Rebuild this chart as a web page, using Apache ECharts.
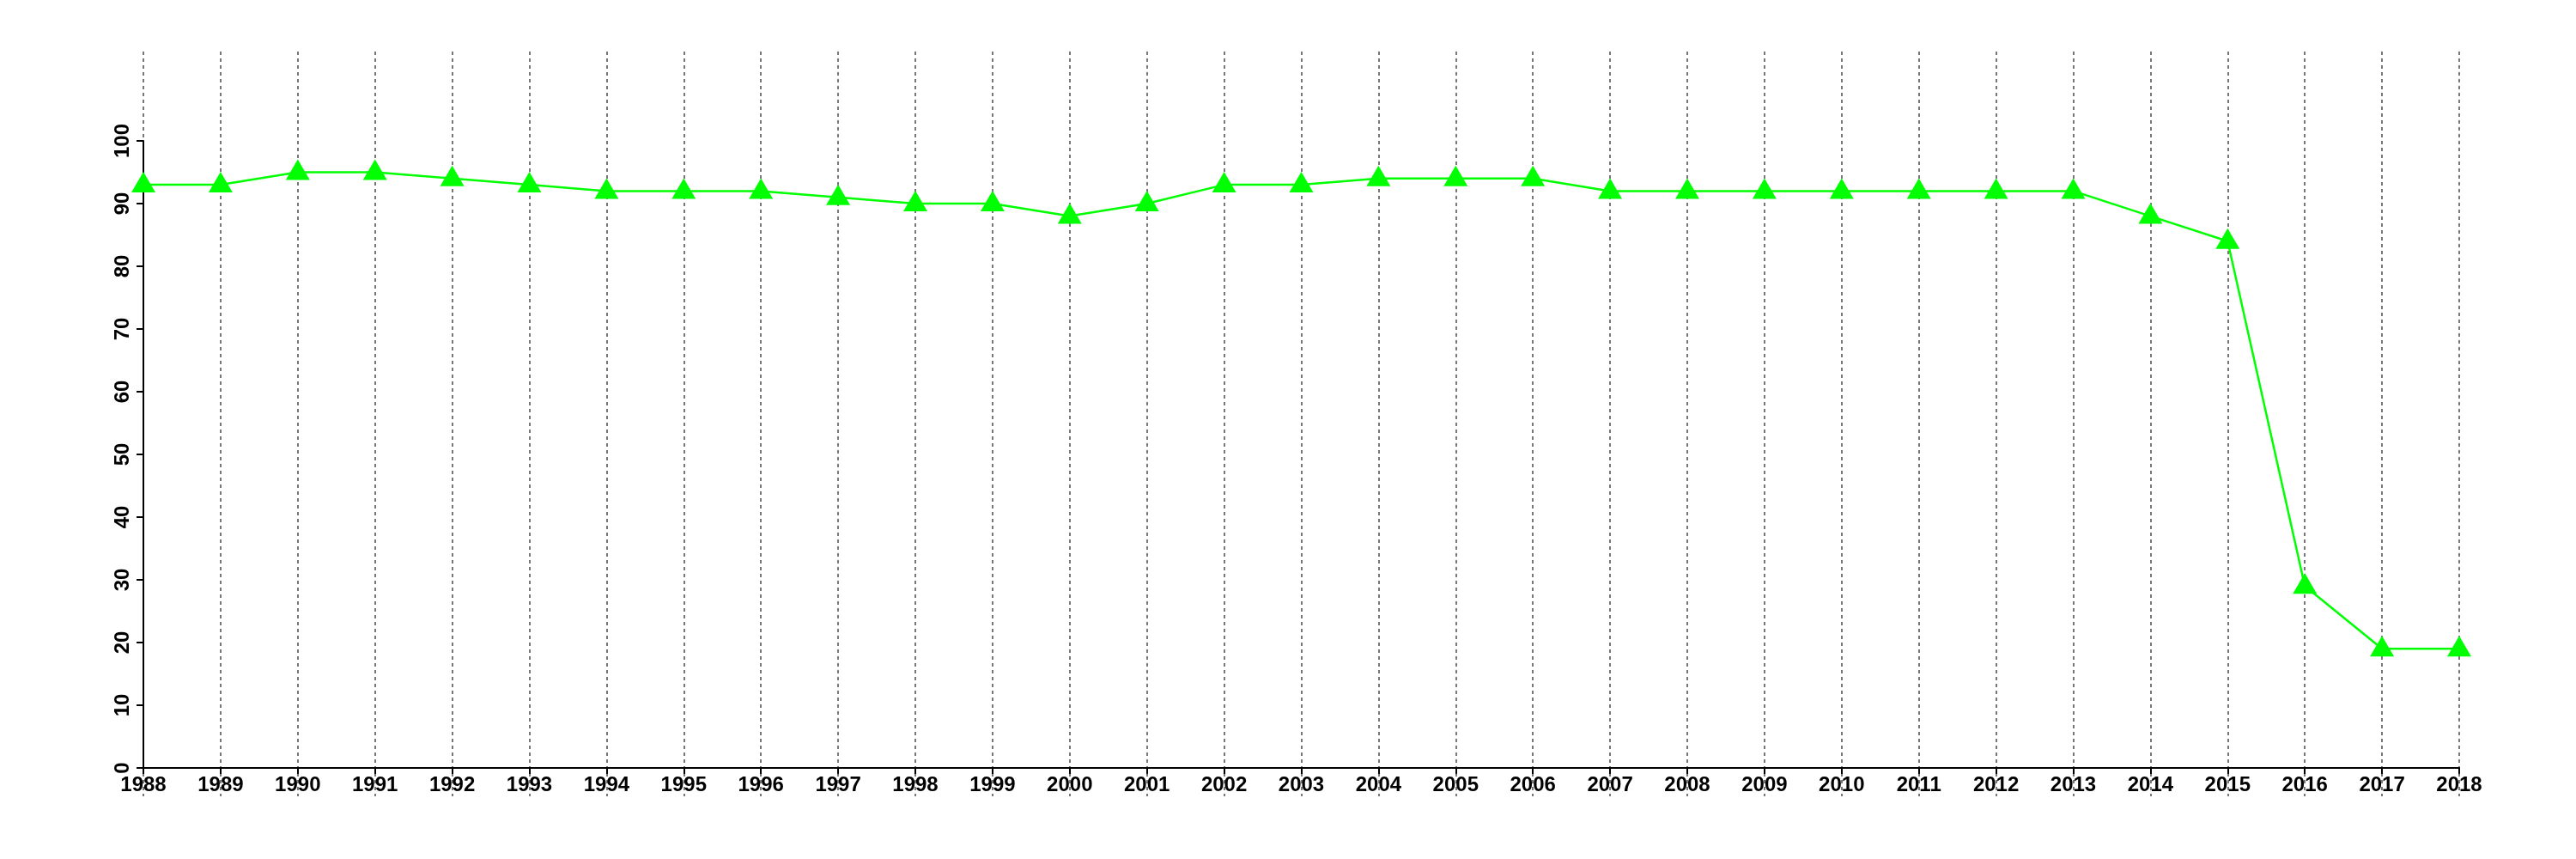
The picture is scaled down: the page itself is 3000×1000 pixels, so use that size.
<!DOCTYPE html>
<html><head><meta charset="utf-8">
<script src="https://cdn.jsdelivr.net/npm/echarts@6/dist/echarts.min.js"></script>
<style>html,body{margin:0;padding:0;background:#fff}#c{width:3000px;height:1000px}</style>
</head><body><div id="c"></div>
<script>
const years = ['1988','1989','1990','1991','1992','1993','1994','1995','1996','1997','1998','1999','2000','2001','2002','2003','2004','2005','2006','2007','2008','2009','2010','2011','2012','2013','2014','2015','2016','2017','2018'];
const values = [93,93,95,95,94,93,92,92,92,91,90,90,88,90,93,93,94,94,94,92,92,92,92,92,92,92,88,84,29,19,19];
const yMin = 0, yMax = 100, yStep = 10;

const chart = echarts.init(document.getElementById('c'), null, {renderer:'canvas'});
const font = {fontFamily:'Liberation Sans', fontWeight:'bold', fontSize:24, color:'#000'};
chart.setOption({
  animation:false,
  backgroundColor:'#fff',
  grid:[
    {left:167, width:2697, top:60, height:867},
    {left:167, width:2697, top:164, height:730}
  ],
  xAxis:[
    {gridIndex:0, type:'category', data:years, boundaryGap:false,
     axisLine:{show:false}, axisTick:{show:false}, axisLabel:{show:false},
     splitLine:{show:true, lineStyle:{color:'#777', width:2, type:[4,4]}}},
    {gridIndex:1, type:'category', data:years, boundaryGap:false,
     axisLine:{show:true, lineStyle:{color:'#000', width:2}},
     axisTick:{show:true, length:7, lineStyle:{color:'#000', width:2}},
     axisLabel:Object.assign({margin:8, interval:0}, font),
     splitLine:{show:false}}
  ],
  yAxis:[
    {gridIndex:0, type:'value', show:false},
    {gridIndex:1, type:'value', min:yMin, max:yMax, interval:yStep,
     axisLine:{show:true, lineStyle:{color:'#000', width:2}},
     axisTick:{show:true, length:8, lineStyle:{color:'#000', width:2}},
     axisLabel:Object.assign({margin:12, rotate:90}, font),
     splitLine:{show:false}}
  ],
  series:[{
    type:'line', xAxisIndex:1, yAxisIndex:1, data:values,
    symbol:'triangle', symbolSize:[28,24], symbolOffset:[0,-3],
    lineStyle:{color:'#00ff00', width:2.5},
    itemStyle:{color:'#00ff00'}
  }]
});
</script></body></html>
